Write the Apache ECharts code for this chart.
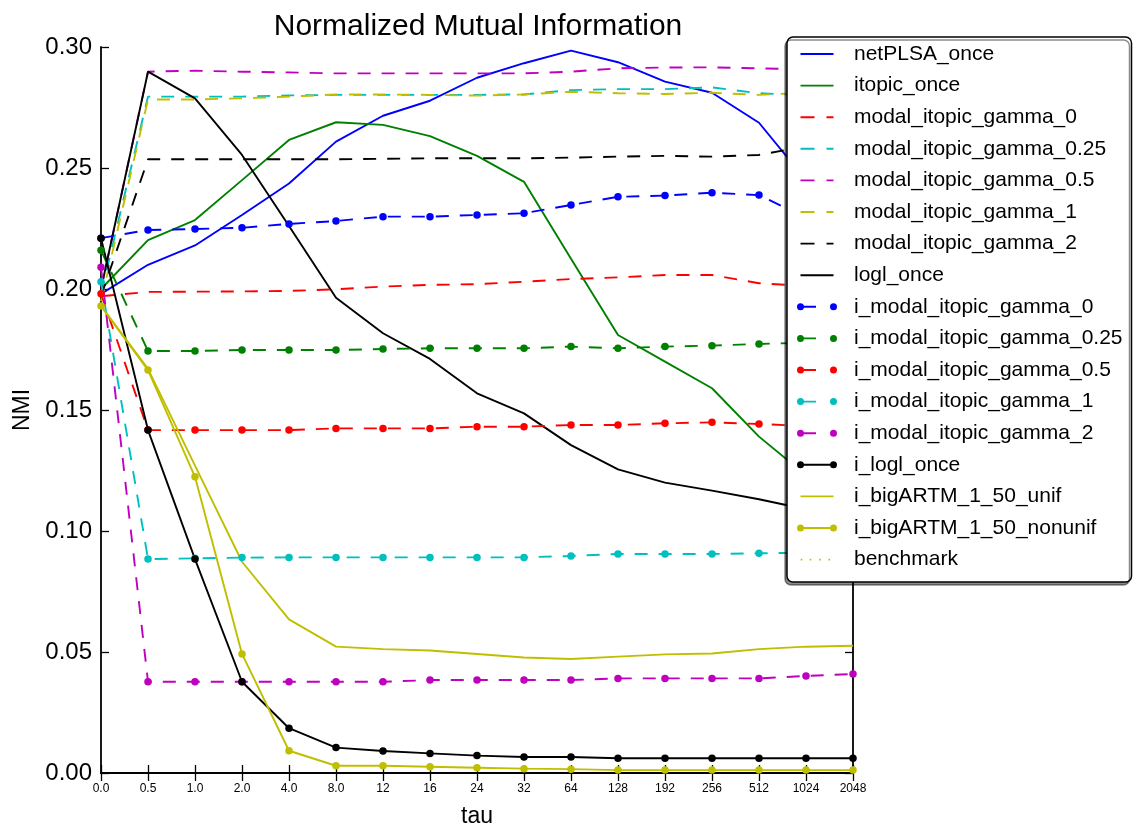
<!DOCTYPE html>
<html>
<head>
<meta charset="utf-8">
<title>Normalized Mutual Information</title>
<script src="https://cdn.jsdelivr.net/npm/echarts@6/dist/echarts.min.js"></script>
<style>
  html, body { margin: 0; padding: 0; background: #fff; }
  #chart { width: 1134px; height: 830px; }
</style>
</head>
<body>
<div id="chart"></div>
<script>
// tau values (evenly spaced categories)
const tau = ['0.0', '0.5', '1.0', '2.0', '4.0', '8.0', '12', '16', '24', '32', '64', '128', '192', '256', '512', '1024', '2048'];

// NMI per method
const netPLSA_once = [0.198, 0.210, 0.218, 0.2306, 0.2436, 0.2609, 0.2716, 0.2778, 0.2873, 0.2933, 0.2985, 0.2937, 0.2857, 0.2811, 0.2687, 0.245, 0.236];
const itopic_once = [0.200, 0.2202, 0.2285, 0.245, 0.2616, 0.2689, 0.2678, 0.2632, 0.255, 0.2443, 0.2125, 0.181, 0.170, 0.159, 0.139, 0.123, 0.115];
const modal_itopic_gamma_0 = [0.197, 0.1988, 0.1989, 0.199, 0.1992, 0.1999, 0.201, 0.2017, 0.202, 0.203, 0.2041, 0.2048, 0.2058, 0.2058, 0.2024, 0.2012, 0.200];
const modal_itopic_gamma_025 = [0.198, 0.2795, 0.2795, 0.2795, 0.280, 0.2802, 0.2802, 0.2802, 0.2802, 0.2804, 0.2822, 0.2826, 0.2826, 0.2833, 0.2809, 0.280, 0.280];
const modal_itopic_gamma_05 = [0.200, 0.2898, 0.2902, 0.2898, 0.2895, 0.2891, 0.2891, 0.2891, 0.2891, 0.2891, 0.2898, 0.2912, 0.2915, 0.2916, 0.2912, 0.2908, 0.2905];
const modal_itopic_gamma_1 = [0.195, 0.2783, 0.2783, 0.2788, 0.2795, 0.2804, 0.2804, 0.2802, 0.2799, 0.2804, 0.2815, 0.2809, 0.2806, 0.2811, 0.2802, 0.2811, 0.281];
const modal_itopic_gamma_2 = [0.197, 0.2536, 0.2536, 0.2536, 0.2536, 0.2536, 0.2538, 0.254, 0.254, 0.254, 0.2543, 0.2547, 0.255, 0.2547, 0.2554, 0.259, 0.260];
const logl_once = [0.200, 0.2898, 0.2788, 0.2554, 0.2260, 0.1964, 0.1817, 0.1711, 0.1569, 0.1486, 0.1355, 0.1255, 0.120, 0.1167, 0.1131, 0.109, 0.107];
const i_modal_itopic_gamma_0 = [0.221, 0.2244, 0.2248, 0.2253, 0.2269, 0.2281, 0.2299, 0.2299, 0.2306, 0.2313, 0.2347, 0.2381, 0.2386, 0.2398, 0.2388, 0.2295, 0.228];
const i_modal_itopic_gamma_025 = [0.216, 0.1744, 0.1744, 0.1748, 0.1748, 0.1748, 0.1752, 0.1755, 0.1755, 0.1755, 0.1762, 0.1755, 0.1762, 0.1766, 0.1773, 0.1778, 0.178];
const i_modal_itopic_gamma_05 = [0.198, 0.1417, 0.1417, 0.1417, 0.1417, 0.1424, 0.1424, 0.1424, 0.1431, 0.1431, 0.1438, 0.1438, 0.1445, 0.1449, 0.1442, 0.1434, 0.143];
const i_modal_itopic_gamma_1 = [0.203, 0.0884, 0.0887, 0.089, 0.0891, 0.0891, 0.0891, 0.0891, 0.0891, 0.0891, 0.0897, 0.0905, 0.0905, 0.0905, 0.0908, 0.091, 0.091];
const i_modal_itopic_gamma_2 = [0.209, 0.0377, 0.0377, 0.0377, 0.0377, 0.0377, 0.0377, 0.0384, 0.0384, 0.0384, 0.0384, 0.0391, 0.0391, 0.0391, 0.0391, 0.0401, 0.0409];
const i_logl_once = [0.221, 0.1417, 0.0884, 0.0377, 0.0185, 0.0105, 0.0091, 0.0081, 0.0072, 0.0066, 0.0066, 0.0061, 0.0061, 0.0061, 0.0061, 0.0061, 0.0061];
const i_bigARTM_1_50_unif = [0.193, 0.167, 0.127, 0.0873, 0.0635, 0.0522, 0.0512, 0.0506, 0.0492, 0.0477, 0.0471, 0.0481, 0.049, 0.0494, 0.0512, 0.0522, 0.0526];
const i_bigARTM_1_50_nonunif = [0.193, 0.1665, 0.1224, 0.0492, 0.0092, 0.003, 0.003, 0.0026, 0.0022, 0.0018, 0.0016, 0.0012, 0.0012, 0.0012, 0.0012, 0.0012, 0.0012];
const benchmark = tau.map(() => null);

// y-axis ticks
const yMin = 0, yMax = 0.30, yStep = 0.05;

const FONT = '"Liberation Sans", Arial, sans-serif';
const C = { b: '#0000ff', g: '#008000', r: '#ff0000', c: '#00bfbf', m: '#bf00bf', y: '#bfbf00', k: '#000000' };
const DASH = [13, 11];
const LW = 1.9;

// Legend glyphs: short line sample with a marker at each end, drawn in a 40x7 box
const ICON_W = 40, ICON_H = 7;
const y0 = (ICON_H - LW) / 2, y1 = (ICON_H + LW) / 2;
const bar = (x1, x2) => `M${x1} ${y0}L${x2} ${y0}L${x2} ${y1}L${x1} ${y1}Z`;
const dot = cx => `M${cx - 3.5} 3.5A3.5 3.5 0 1 1 ${cx + 3.5} 3.5A3.5 3.5 0 1 1 ${cx - 3.5} 3.5Z`;
const frame = `M0 0L0 0M${ICON_W} ${ICON_H}L${ICON_W} ${ICON_H}`;
const ICONS = {
  solid: 'path://' + frame + bar(3.5, 36.5),
  dashed: 'path://' + frame + bar(3.5, 17.5) + bar(29.5, 36.5),
  solidMarker: 'path://' + frame + dot(3.5) + bar(3.5, 36.5) + dot(36.5),
  dashedMarker: 'path://' + frame + dot(3.5) + bar(3.5, 19) + dot(36.5),
  dotted: 'path://' + frame + bar(3.7, 5.3) + bar(12.7, 14.3) + bar(22.2, 23.8) + bar(31.5, 33.1)
};

// name, data, colour, line kind, markers
const seriesDefs = [
  ['netPLSA_once', netPLSA_once, C.b, 'solid', false],
  ['itopic_once', itopic_once, C.g, 'solid', false],
  ['modal_itopic_gamma_0', modal_itopic_gamma_0, C.r, 'dashed', false],
  ['modal_itopic_gamma_0.25', modal_itopic_gamma_025, C.c, 'dashed', false],
  ['modal_itopic_gamma_0.5', modal_itopic_gamma_05, C.m, 'dashed', false],
  ['modal_itopic_gamma_1', modal_itopic_gamma_1, C.y, 'dashed', false],
  ['modal_itopic_gamma_2', modal_itopic_gamma_2, C.k, 'dashed', false],
  ['logl_once', logl_once, C.k, 'solid', false],
  ['i_modal_itopic_gamma_0', i_modal_itopic_gamma_0, C.b, 'dashed', true],
  ['i_modal_itopic_gamma_0.25', i_modal_itopic_gamma_025, C.g, 'dashed', true],
  ['i_modal_itopic_gamma_0.5', i_modal_itopic_gamma_05, C.r, 'dashed', true],
  ['i_modal_itopic_gamma_1', i_modal_itopic_gamma_1, C.c, 'dashed', true],
  ['i_modal_itopic_gamma_2', i_modal_itopic_gamma_2, C.m, 'dashed', true],
  ['i_logl_once', i_logl_once, C.k, 'solid', true],
  ['i_bigARTM_1_50_unif', i_bigARTM_1_50_unif, C.y, 'solid', false],
  ['i_bigARTM_1_50_nonunif', i_bigARTM_1_50_nonunif, C.y, 'solid', true],
  ['benchmark', benchmark, C.y, 'dotted', false]
];

const lineType = kind => kind === 'dashed' ? DASH : kind === 'dotted' ? [2, 7] : 'solid';

const series = seriesDefs.map(([name, data, color, kind, marker]) => ({
  name: name,
  type: 'line',
  data: data,
  xAxisIndex: 0,
  yAxisIndex: 0,
  symbol: marker ? 'circle' : 'none',
  symbolSize: 7.5,
  showSymbol: marker,
  connectNulls: false,
  animation: false,
  color: color,
  lineStyle: { color: color, width: LW, type: lineType(kind) },
  itemStyle: { color: color, borderWidth: 0 },
  emphasis: { disabled: true }
}));

const legendData = seriesDefs.map(([name, , , kind, marker]) => ({
  name: name,
  icon: ICONS[kind === 'dotted' ? 'dotted' : kind + (marker ? 'Marker' : '')]
}));

const axisLine = { show: true, lineStyle: { color: '#000', width: 1.8 } };
const tickIn = { show: true, inside: true, length: 8, interval: 0, lineStyle: { color: '#000', width: 1.3 } };

const option = {
  backgroundColor: '#fff',
  animation: false,
  title: {
    text: 'Normalized Mutual Information',
    left: 473,
    top: 7,
    textAlign: 'center',
    textStyle: { fontFamily: FONT, fontSize: 30, fontWeight: 'normal', color: '#000' }
  },
  grid: { left: 101, right: 281, top: 47, bottom: 57, containLabel: false, outerBoundsMode: 'none' },
  legend: {
    orient: 'vertical',
    left: 787,
    top: 37,
    padding: [6.5, 9, 12, 10],
    itemWidth: ICON_W,
    itemHeight: ICON_H,
    itemGap: 10.6,
    symbolKeepAspect: true,
    selectedMode: false,
    backgroundColor: '#fff',
    borderColor: '#000',
    borderWidth: 1.5,
    borderRadius: 6,
    shadowColor: 'rgba(0,0,0,0.45)',
    shadowBlur: 0,
    shadowOffsetX: -2,
    shadowOffsetY: 3,
    itemStyle: { borderWidth: 0 },
    textStyle: { fontFamily: FONT, fontSize: 21, color: '#000', lineHeight: 21, padding: [0, 0, 0, 12] },
    data: legendData
  },
  xAxis: [
    {
      type: 'category',
      data: tau,
      boundaryGap: false,
      position: 'bottom',
      axisLine: axisLine,
      axisTick: tickIn,
      axisLabel: { interval: 0, fontFamily: FONT, fontSize: 12, color: '#000', margin: 10 },
      splitLine: { show: false },
      name: 'tau',
      nameLocation: 'middle',
      nameGap: 32,
      nameTextStyle: { fontFamily: FONT, fontSize: 23, color: '#000' }
    },
    {
      type: 'category',
      data: tau,
      boundaryGap: false,
      position: 'top',
      axisLine: axisLine,
      axisTick: tickIn,
      axisLabel: { show: false },
      splitLine: { show: false }
    }
  ],
  yAxis: [
    {
      type: 'value',
      min: yMin,
      max: yMax,
      interval: yStep,
      position: 'left',
      axisLine: axisLine,
      axisTick: tickIn,
      axisLabel: { fontFamily: FONT, fontSize: 24, color: '#000', margin: 9, formatter: v => v.toFixed(2) },
      splitLine: { show: false },
      name: 'NMI',
      nameLocation: 'middle',
      nameGap: 64,
      nameRotate: 90,
      nameTextStyle: { fontFamily: FONT, fontSize: 23, color: '#000' }
    },
    {
      type: 'value',
      min: yMin,
      max: yMax,
      interval: yStep,
      position: 'right',
      axisLine: axisLine,
      axisTick: tickIn,
      axisLabel: { show: false },
      splitLine: { show: false }
    }
  ],
  series: series
};

const chart = echarts.init(document.getElementById('chart'), null, { renderer: 'canvas' });
chart.setOption(option);
</script>
</body>
</html>
